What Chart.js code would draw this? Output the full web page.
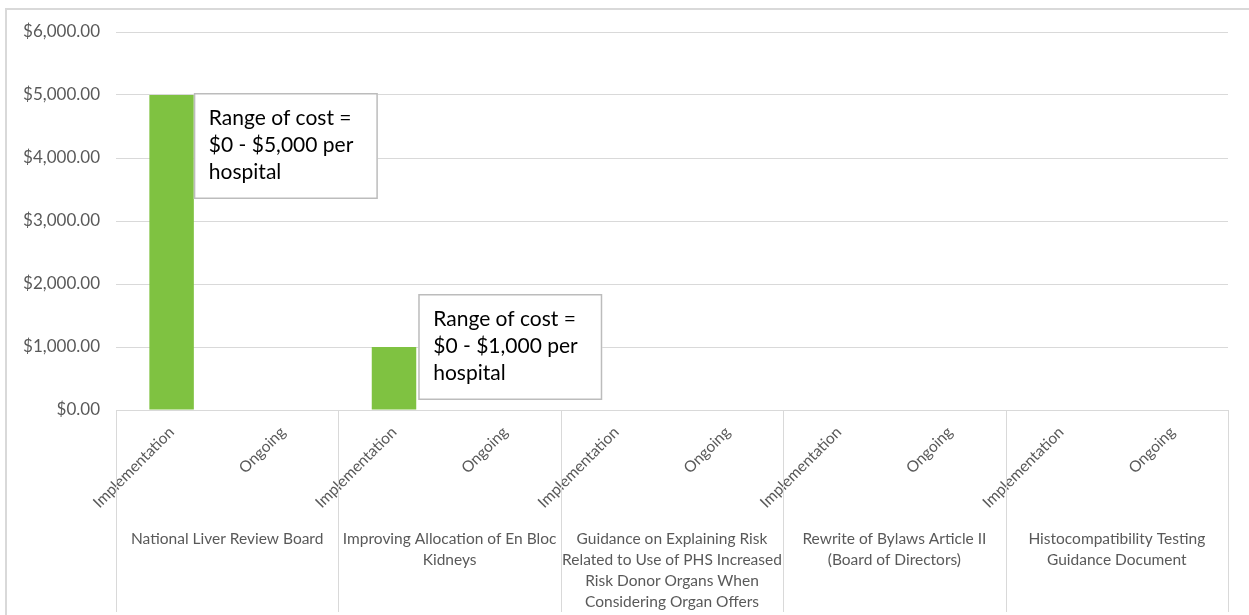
<!DOCTYPE html>
<html>
<head>
<meta charset="utf-8">
<script src="https://cdn.jsdelivr.net/npm/chart.js@4.4.1/dist/chart.umd.min.js"></script>
<style>
  html, body { margin: 0; padding: 0; background: #fff; }
  #wrap { width: 1249px; height: 615px; }
</style>
</head>
<body>
<div id="wrap"><canvas id="chart0" width="1249" height="615"></canvas></div>
<script>
	// categories (two per policy group)
	const categories = [
		'Implementation', 'Ongoing',
		'Implementation', 'Ongoing',
		'Implementation', 'Ongoing',
		'Implementation', 'Ongoing',
		'Implementation', 'Ongoing'
	];

	// policy group labels, already wrapped as in the picture
	const groupLabels = [
		['National Liver Review Board'],
		['Improving Allocation of En Bloc', 'Kidneys'],
		['Guidance on Explaining Risk', 'Related to Use of PHS Increased', 'Risk Donor Organs When', 'Considering Organ Offers'],
		['Rewrite of Bylaws Article II', '(Board of Directors)'],
		['Histocompatibility Testing', 'Guidance Document']
	];

	// cost per hospital
	const costValues = [5000, 0, 1000, 0, 0, 0, 0, 0, 0, 0];

	// y axis range
	const yMin = 0;
	const yMax = 6000;
	const yStep = 1000;

	// call-out notes: which bar they belong to
	const noteTexts = [
		['Range of cost =', '$0 - $5,000 per', 'hospital'],
		['Range of cost =', '$0 - $1,000 per', 'hospital']
	];
	const noteIndex = [0, 2];
	const noteValue = [5000, 1000];

	const FONT = "Lato, 'Open Sans', sans-serif";
	const GREY = '#595959';
	const LINE = '#d9d9d9';

	/**
	 * 外枠、グループ区切り線、グループ名、吹き出しを描く
	 */
	const decorations = {
		id: 'decorations',
		beforeDraw(chart) {
			let ctx = chart.ctx;
			ctx.save();
			ctx.fillStyle = '#fff';
			ctx.fillRect(0, 0, chart.width, chart.height);
			ctx.strokeStyle = LINE;
			ctx.lineWidth = 2;
			ctx.strokeRect(6, 9, chart.width + 20, chart.height + 20);
			ctx.restore();
		},
		afterDraw(chart) {
			let ctx = chart.ctx;
			let y = chart.scales.y;
			let area = chart.chartArea;
			let catW = (area.right - area.left) / categories.length;

			ctx.save();
			// group separators
			ctx.strokeStyle = LINE;
			ctx.lineWidth = 1;
			for (let g = 0; g <= groupLabels.length; g++) {
				let gx = Math.round(area.left + g * 2 * catW) + 0.5;
				ctx.beginPath();
				ctx.moveTo(gx, area.bottom);
				ctx.lineTo(gx, 612);
				ctx.stroke();
			}

			// group labels
			ctx.fillStyle = GREY;
			ctx.font = '15.5px ' + FONT;
			ctx.textAlign = 'center';
			ctx.textBaseline = 'middle';
			groupLabels.forEach((lines, g) => {
				let cx = area.left + (g * 2 + 1) * catW;
				lines.forEach((line, i) => {
					ctx.fillText(line, cx, 539 + i * 21);
				});
			});

			// notes
			const offsets = [{dx: 0, dy: -2}, {dx: 2, dy: -53}];
			noteTexts.forEach((lines, n) => {
				let meta = chart.getDatasetMeta(0).data[noteIndex[n]];
				let left = meta.x + meta.width / 2 + offsets[n].dx;
				let top = y.getPixelForValue(noteValue[n]) + offsets[n].dy;
				ctx.fillStyle = '#fff';
				ctx.fillRect(left, top, 184, 106);
				ctx.strokeStyle = '#bcbcbc';
				ctx.lineWidth = 1.5;
				ctx.strokeRect(left + 0.75, top + 0.75, 182.5, 104.5);
				ctx.fillStyle = '#000';
				ctx.font = '21px ' + FONT;
				ctx.textAlign = 'left';
				ctx.textBaseline = 'middle';
				lines.forEach((line, i) => {
					ctx.fillText(line, left + 15, top + 25 + i * 27);
				});
			});
			ctx.restore();
		}
	};

	let config = {
		type: 'bar',
		data: {
			labels: categories,
			datasets: [{
				data: costValues,
				backgroundColor: '#7fc241',
				categoryPercentage: 1,
				barPercentage: 0.4
			}]
		},
		options: {
			responsive: false,
			animation: false,
			layout: {
				padding: { top: 32, right: 21, left: 0, bottom: 0 }
			},
			plugins: {
				legend: { display: false },
				tooltip: { enabled: false },
				title: { display: false }
			},
			scales: {
				x: {
					grid: { display: false },
					border: { display: false },
					ticks: {
						color: GREY,
						font: { family: FONT, size: 15.5 },
						minRotation: 45,
						maxRotation: 45,
						autoSkip: false,
						padding: 5
					},
					afterFit: function(scale) { scale.height = 205; }
				},
				y: {
					min: yMin,
					max: yMax,
					grid: { color: LINE, drawTicks: false },
					border: { display: false },
					ticks: {
						stepSize: yStep,
						color: GREY,
						font: { family: FONT, size: 17 },
						padding: 16,
						callback: function(v) {
							return '$' + Number(v).toLocaleString('en-US', { minimumFractionDigits: 2, maximumFractionDigits: 2 });
						}
					},
					afterFit: function(scale) { scale.width = 116; }
				}
			}
		},
		plugins: [decorations]
	};

	let grapharea = document.getElementById('chart0').getContext('2d');
	window.myChart = new Chart(grapharea, config);
</script>
</body>
</html>
